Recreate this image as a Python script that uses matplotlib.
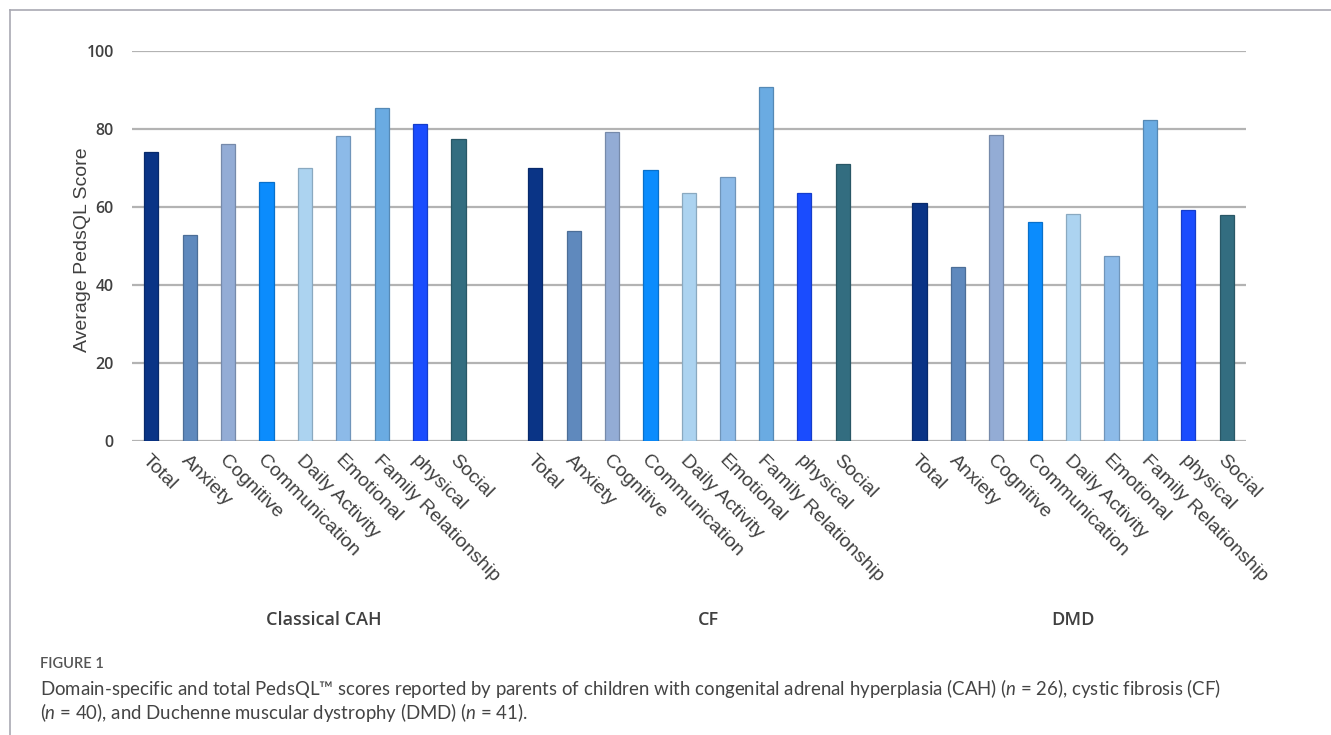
import matplotlib
matplotlib.use("Agg")
import matplotlib.pyplot as plt
import matplotlib.colors as mcolors
import numpy as np

groups = ["Classical CAH", "CF", "DMD"]
domains = ["Total", "Anxiety", "Cognitive", "Communication", "Daily Activity",
           "Emotional", "Family Relationship", "physical", "Social"]
cah = [74.1, 52.9, 76.2, 66.5, 69.9, 78.2, 85.5, 81.4, 77.4]
cf = [69.9, 53.8, 79.2, 69.5, 63.5, 67.7, 90.8, 63.5, 70.9]
dmd = [60.9, 44.5, 78.5, 56.1, 58.1, 47.5, 82.2, 59.2, 57.9]
yticks = [0, 20, 40, 60, 80, 100]

colors = ["#0a3486", "#5f89bd", "#93acd5", "#0b8cfd", "#acd3f0",
          "#8cbae8", "#6aabe2", "#1a4cfe", "#336d80"]

plt.rcParams['mathtext.fontset'] = 'custom'
plt.rcParams['mathtext.rm'] = 'Lato'
plt.rcParams['mathtext.it'] = 'Lato:italic'

fig = plt.figure(figsize=(13.31, 7.35), dpi=100)
ax = fig.add_axes([132/1331, 1-441/735, 1114/1331, 390/735])

def darker(c, f=0.8):
    r, g, b = mcolors.to_rgb(c)
    return (r*f, g*f, b*f)

series = [cah, cf, dmd]
slot = 10
xs_all, labels_all = [], []
for gi, vals in enumerate(series):
    xs = np.arange(len(domains)) + gi*slot
    ax.bar(xs, vals, width=0.37, color=colors,
           edgecolor=[darker(c) for c in colors], linewidth=0.9, zorder=3)
    xs_all.extend(xs)
    labels_all.extend(domains)

ax.set_xlim(-0.5, 2*slot + len(domains) - 0.5)
ax.set_ylim(0, 100)
ax.set_yticks(yticks)
ax.set_yticklabels([str(v) for v in yticks], fontsize=11.5, color="#404040",
                   family="Open Sans", fontweight="semibold")
ax.tick_params(axis='y', length=0, pad=13)
ax.tick_params(axis='x', length=0, pad=8)
ax.set_xticks(xs_all)
ax.set_xticklabels(labels_all, rotation=-45, ha='left', va='top',
                   rotation_mode='anchor', fontsize=14, color="#404040",
                   family="Liberation Sans")
ax.yaxis.grid(True, color="#b3b3b3", linewidth=1.6, zorder=0)
for s in ax.spines.values():
    s.set_visible(False)
ax.set_ylabel("Average PedsQL Score", fontsize=14, color="#404040",
              family="Liberation Sans")
ax.yaxis.set_label_coords(-0.037, 0.49)

group_centers = [4.5, 14.5, 24.0]
for g, cx in zip(groups, group_centers):
    xd = ax.transData.transform((cx, 0))[0]
    fig.text(xd/1331, 1-620/735, g, ha='center', va='center',
             fontsize=13, color="#404040", family="Open Sans",
             fontweight="semibold")

# frame lines
fig.add_artist(plt.Line2D([10/1331, 1], [1-10/735, 1-10/735], color="#a9a9b3",
                          linewidth=1.2, transform=fig.transFigure))
fig.add_artist(plt.Line2D([10/1331, 10/1331], [0, 1-10/735], color="#a9a9b3",
                          linewidth=1.2, transform=fig.transFigure))

fig.text(40/1331, 1-664/735, "FIGURE 1", fontsize=10.5, color="#555555",
         family="Lato", fontweight="semibold", va='center', ha='left')
fig.text(40/1331, 1-688/735,
         "Domain-specific and total PedsQL™ scores reported by parents of children with congenital adrenal hyperplasia (CAH) ($n$ = 26), cystic fibrosis (CF)",
         fontsize=13.4, color="#444444", family="Lato", va='center', ha='left')
fig.text(40/1331, 1-712/735,
         "($n$ = 40), and Duchenne muscular dystrophy (DMD) ($n$ = 41).",
         fontsize=13.4, color="#444444", family="Lato", va='center', ha='left')

fig.savefig("out.png", dpi=100)
